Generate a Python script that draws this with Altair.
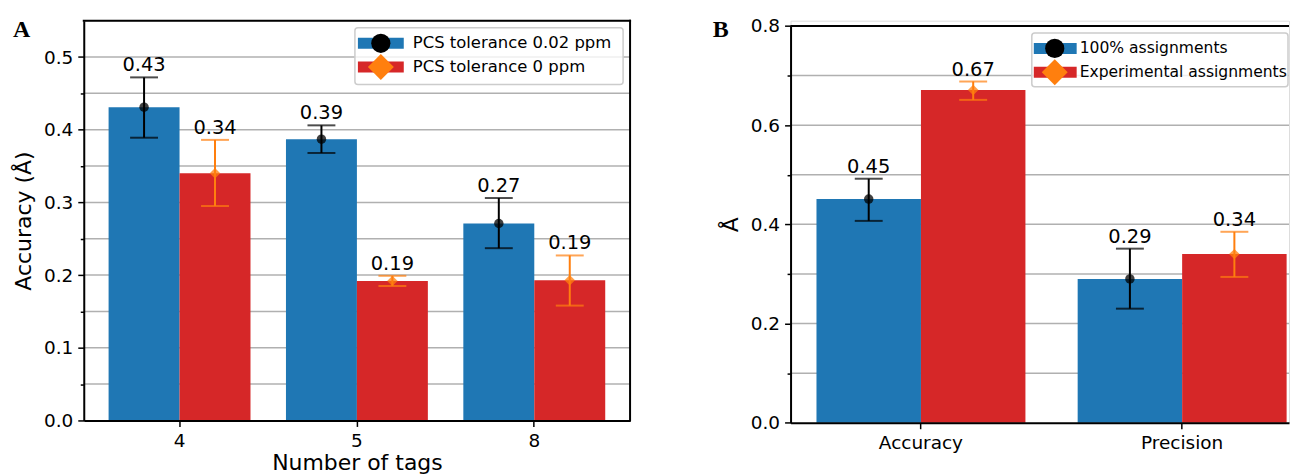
import altair as alt
import pandas as pd

FONT = "DejaVu Sans"
SERIF = "Liberation Serif"
BLUE = "#1f77b4"
RED = "#d62728"
ORANGE = "#ff7f0e"
GRID = "#b0b0b0"

# ---------------- Panel A data ----------------
a_groups = ["4", "5", "8"]
a_series = ["PCS tolerance 0.02 ppm", "PCS tolerance 0 ppm"]
a_s1_mean = [0.431, 0.387, 0.271]
a_s1_low = [0.389, 0.368, 0.237]
a_s1_high = [0.472, 0.406, 0.306]
a_s2_mean = [0.340, 0.192, 0.193]
a_s2_low = [0.295, 0.185, 0.158]
a_s2_high = [0.386, 0.199, 0.227]
a_yticks = [0.0, 0.05, 0.1, 0.15, 0.2, 0.25, 0.3, 0.35, 0.4, 0.45, 0.5]

# ---------------- Panel B data ----------------
b_groups = ["Accuracy", "Precision"]
b_series = ["100% assignments", "Experimental assignments"]
b_s1_mean = [0.451, 0.290]
b_s1_low = [0.407, 0.230]
b_s1_high = [0.492, 0.351]
b_s2_mean = [0.671, 0.340]
b_s2_low = [0.651, 0.294]
b_s2_high = [0.688, 0.385]
b_yticks = [0.0, 0.1, 0.2, 0.3, 0.4, 0.5, 0.6, 0.7, 0.8]


def table(groups, series, m1, l1, h1, m2, l2, h2):
    rows = []
    for s, (m, lo, hi) in zip(series, [(m1, l1, h1), (m2, l2, h2)]):
        for g, mv, lv, hv in zip(groups, m, lo, hi):
            rows.append({"group": g, "series": s, "mean": mv, "low": lv, "high": hv})
    return pd.DataFrame(rows)


def one(v):
    return alt.Chart(pd.DataFrame({"label": [v]}))


def panel(df, groups, series, yticks, ymax, major_mult, W, H, top, pad_outer, align,
          xtitle, ytitle, letter, letter_x, letter_y, leg, full_box):
    major_test = f"abs(datum.value*{major_mult} - round(datum.value*{major_mult})) < 0.0001"
    x = alt.X(
        "group:N",
        sort=groups,
        scale=alt.Scale(domain=groups, paddingInner=0.2, paddingOuter=pad_outer, align=align),
        axis=alt.Axis(
            title=xtitle, labelAngle=0, tickSize=6, tickWidth=1.5, tickColor="black",
            domainColor="black", domainWidth=2, labelFont=FONT, labelFontSize=18.5,
            labelColor="black", labelPadding=5, titleFont=FONT, titleFontSize=22,
            titleFontWeight="normal", titleColor="black", titlePadding=3, zindex=1,
        ),
    )
    xo = alt.XOffset("series:N", sort=series, scale=alt.Scale(domain=series))
    yscale = alt.Scale(domain=[0, ymax], nice=False, zero=True, range=[H, top])
    yaxis = alt.Axis(
        title=ytitle, values=yticks,
        labelExpr=f"{major_test} ? format(datum.value, '.1f') : ''",
        tickSize={"condition": {"test": major_test, "value": 6}, "value": 3.5},
        tickWidth=1.5, tickColor="black", domainColor="black", domainWidth=2,
        labelFont=FONT, labelFontSize=18.5, labelColor="black", labelPadding=5,
        titleFont=FONT, titleFontSize=22, titleFontWeight="normal", titleColor="black",
        titlePadding=8, grid=False, zindex=1,
    )

    base = alt.Chart(df)
    layers = []
    # grid lines
    layers.append(
        alt.Chart(pd.DataFrame({"tick": yticks[1:]}))
        .mark_rule(color=GRID, strokeWidth=1.5)
        .encode(y=alt.Y("tick:Q", scale=yscale))
    )
    # bars
    layers.append(
        base.mark_bar().encode(
            x=x, xOffset=xo,
            y=alt.Y("mean:Q", scale=yscale, axis=yaxis),
            color=alt.Color("series:N", scale=alt.Scale(domain=series, range=[BLUE, RED]), legend=None),
        )
    )
    styles = [("black", "circle", 90), (ORANGE, "diamond", 110)]
    for s, (col, shp, sz) in zip(series, styles):
        sub = base.transform_filter(alt.datum.series == s)
        layers.append(
            sub.mark_rule(color=col, strokeWidth=2).encode(
                x=x, xOffset=xo, y=alt.Y("low:Q", scale=yscale), y2="high:Q"
            )
        )
        for fld in ["low", "high"]:
            layers.append(
                sub.mark_tick(color=col, thickness=2, size=28).encode(
                    x=x, xOffset=xo, y=alt.Y(f"{fld}:Q", scale=yscale)
                )
            )
        layers.append(
            sub.mark_point(shape=shp, filled=True, size=sz, color=col, opacity=0.75).encode(
                x=x, xOffset=xo, y=alt.Y("mean:Q", scale=yscale)
            )
        )
    # value labels
    layers.append(
        base.mark_text(baseline="alphabetic", dy=-6, fontSize=19.5, font=FONT, color="black").encode(
            x=x, xOffset=xo, y=alt.Y("high:Q", scale=yscale),
            text=alt.Text("mean:Q", format=".2f"),
        )
    )
    # spines (top / right)
    layers.append(
        one("").mark_rule(color="black", strokeWidth=2, strokeCap="square" if full_box else "butt").encode(
            x=alt.value(0), x2=alt.value(W), y=alt.value(top)
        )
    )
    if full_box:
        layers.append(
            one("").mark_rule(color="black", strokeWidth=2, strokeCap="square").encode(
                x=alt.value(W), y=alt.value(top), y2=alt.value(H)
            )
        )
    # legend
    bx0, bx1, by0, by1 = leg["box"]
    layers.append(
        one("").mark_rect(fill="white", fillOpacity=0.8, stroke="#cccccc", strokeWidth=1.5, cornerRadius=3).encode(
            x=alt.value(bx0), x2=alt.value(bx1), y=alt.value(by0 + top), y2=alt.value(by1 + top)
        )
    )
    patch_cols = [BLUE, RED]
    marker = [("black", "circle", 370), (ORANGE, "diamond", 676)]
    for i, s in enumerate(series):
        cy = leg["rows"][i] + top
        layers.append(
            one(s).mark_rect(color=patch_cols[i]).encode(
                x=alt.value(leg["patch"][0]), x2=alt.value(leg["patch"][1]),
                y=alt.value(cy - 5.5), y2=alt.value(cy + 5.5),
            )
        )
        mc, ms, msz = marker[i]
        layers.append(
            one(s).mark_point(shape=ms, filled=True, size=msz, color=mc, opacity=1).encode(
                x=alt.value(leg["marker"]), y=alt.value(cy)
            )
        )
        layers.append(
            one(s).mark_text(align="left", baseline="middle", fontSize=leg["font"], font=FONT, color="black").encode(
                x=alt.value(leg["text"]), y=alt.value(cy), text="label:N"
            )
        )
    # panel letter
    layers.append(
        one(letter).mark_text(align="left", baseline="alphabetic", font=SERIF, fontWeight="bold",
                              fontSize=24, color="black").encode(
            x=alt.value(letter_x), y=alt.value(letter_y), text="label:N"
        )
    )
    return alt.layer(*layers).properties(width=W, height=H)


df_a = table(a_groups, a_series, a_s1_mean, a_s1_low, a_s1_high, a_s2_mean, a_s2_low, a_s2_high)
df_b = table(b_groups, b_series, b_s1_mean, b_s1_low, b_s1_high, b_s2_mean, b_s2_low, b_s2_high)

chart_a = panel(
    df_a, a_groups, a_series, a_yticks, 0.55, 10, 548, 401, 0, 0.14, 0.5,
    "Number of tags", "Accuracy (Å)", "A", -71, 16,
    {"box": [272, 541, 7, 64], "rows": [22.7, 46.5], "patch": [275, 321], "marker": 298,
     "text": 330, "font": 16.5},
    True,
)
chart_b = panel(
    df_b, b_groups, b_series, b_yticks, 0.8, 5, 500, 403.3, 5.3, 0.0542, 0.9155,
    None, "Å", "B", -78, 16,
    {"box": [242, 499, 7, 61], "rows": [22.5, 46.4], "patch": [244, 287], "marker": 265,
     "text": 290, "font": 15.6},
    False,
)

chart = (
    alt.hconcat(chart_a, chart_b, spacing=80)
    .resolve_scale(x="independent", y="independent", xOffset="independent", color="independent")
    .properties(padding={"left": 4, "top": 7, "right": 0, "bottom": 0})
    .configure_view(strokeWidth=0)
    .configure(font=FONT)
)

chart.save("out.html", embed_options={"renderer": "svg", "actions": False})
